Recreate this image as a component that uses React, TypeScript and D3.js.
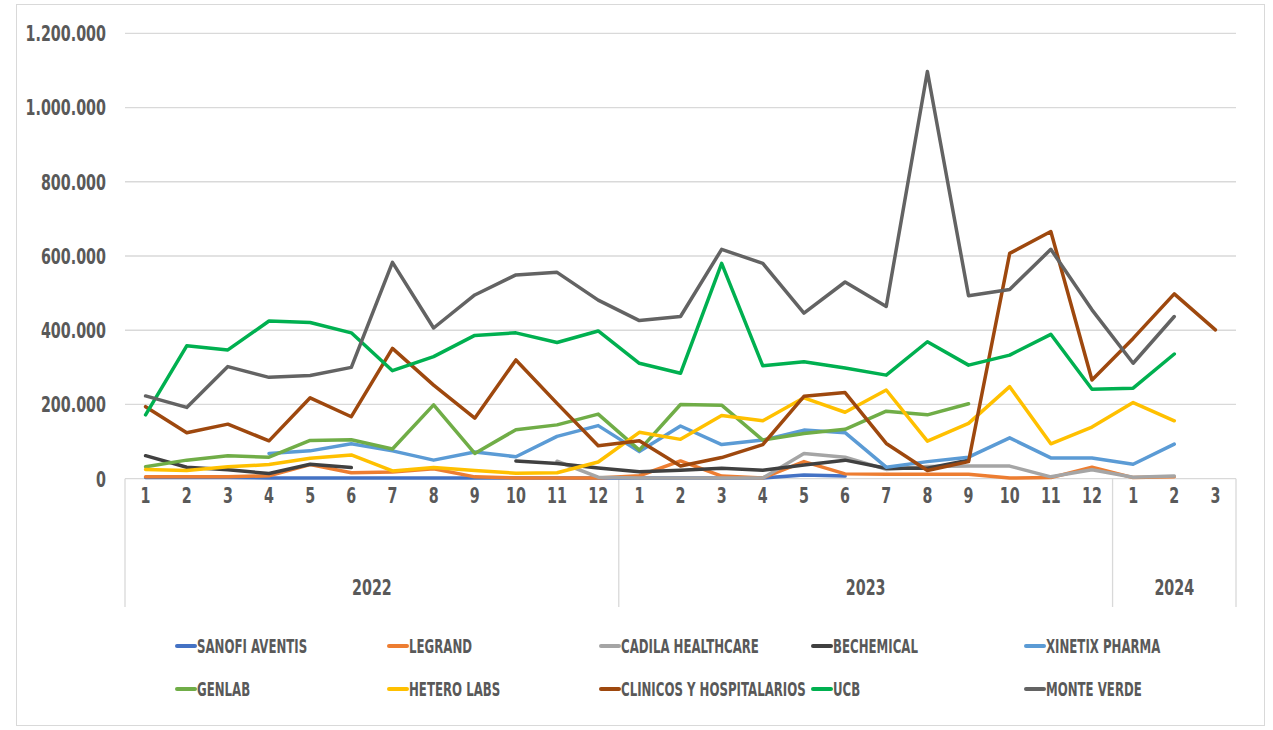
import React from "react";
import * as d3 from "d3";

const months = ["1","2","3","4","5","6","7","8","9","10","11","12","1","2","3","4","5","6","7","8","9","10","11","12","1","2","3"];
const years = [{ label: "2022", start: 0, end: 12 }, { label: "2023", start: 12, end: 24 }, { label: "2024", start: 24, end: 27 }];
const yTicks = [0, 200000, 400000, 600000, 800000, 1000000, 1200000];

type V = number | null;
const N = null;
// values in thousands
const sanofi: V[] = [3,3,3,2,2,2,2,2,2,2,2,2,2,2,2,2,10,7,N,N,N,N,N,N,N,N,N];
const legrand: V[] = [5,5,5,8,38,16,18,27,5,2,2,2,8,48,7,2,46,13,12,12,12,2,3,31,3,5,N];
const cadila: V[] = [N,N,N,N,N,N,N,N,N,N,47,4,2,2,2,2,68,58,25,33,34,34,5,24,4,7,N];
const bechemical: V[] = [62,31,24,14,39,30,N,N,N,48,41,29,19,23,28,23,37,50,28,28,50,N,N,N,N,N,N];
const xinetix: V[] = [N,N,N,68,75,94,75,50,72,59,114,143,73,142,92,104,131,124,31,46,58,110,56,56,39,93,N];
const genlab: V[] = [32,50,62,58,103,105,80,199,68,132,145,174,77,200,198,104,122,133,182,172,202,N,N,N,N,N,N];
const hetero: V[] = [25,22,32,38,55,64,21,30,22,15,16,45,125,106,170,156,218,179,239,101,149,248,94,139,205,156,N];
const clinicos: V[] = [194,124,147,102,218,167,351,252,163,320,203,89,102,34,57,92,222,232,95,22,46,607,666,266,378,498,401];
const ucb: V[] = [172,358,347,425,421,393,291,329,386,393,367,398,311,284,580,304,315,298,279,369,306,333,389,241,244,336,N];
const monteVerde: V[] = [223,192,302,273,278,300,583,406,495,549,556,481,426,437,618,580,446,530,464,1097,493,510,618,455,311,437,N];

const seriesNames = ["SANOFI AVENTIS","LEGRAND","CADILA HEALTHCARE","BECHEMICAL","XINETIX PHARMA","GENLAB","HETERO LABS","CLINICOS Y HOSPITALARIOS","UCB","MONTE VERDE"];
const seriesData = [sanofi, legrand, cadila, bechemical, xinetix, genlab, hetero, clinicos, ucb, monteVerde];
const seriesColors = ["#4472C4","#ED7D31","#A5A5A5","#404040","#5B9BD5","#70AD47","#FFC000","#9E480E","#00B050","#636363"];

const FONT = "'DejaVu Sans', sans-serif";
const TXT = "#595959";

function CText(props: { x: number; y: number; sx: number; size: number; anchor?: string; children: React.ReactNode }) {
  const { x, y, sx, size, anchor = "start", children } = props;
  return (
    <text transform={`translate(${x},${y}) scale(${sx},1)`} dy="0.36em" textAnchor={anchor} fontFamily={FONT} fontWeight="bold" fontSize={size} fill={TXT}>
      {children}
    </text>
  );
}

export default function App() {
  const left = 125, right = 1236, top = 33.3, bottom = 478.7;
  const x = d3.scaleBand<number>().domain(d3.range(months.length)).range([left, right]).padding(0);
  const bw = x.bandwidth();
  const cx = (i: number) => (x(i) as number) + bw / 2;
  const y = d3.scaleLinear().domain([0, 1200000]).range([bottom, top]);
  const fmt = (v: number) => (v === 0 ? "0" : d3.format(",")(v).replace(/,/g, "."));

  const line = d3.line<V>()
    .defined((d) => d != null)
    .x((_, i) => cx(i))
    .y((d) => y((d as number) * 1000));

  const legendCols = [176, 388, 600, 812, 1025];
  const legendRows = [646, 689];

  return (
    <svg width={1273} height={730} style={{ position: "absolute", left: 0, top: 0, background: "#fff" }}>
      <rect x={16.5} y={4.5} width={1248} height={721} fill="#fff" stroke="#d9d9d9" />
      {yTicks.map((t) => (
        <g key={t}>
          {t > 0 && <line x1={left} x2={right} y1={y(t)} y2={y(t)} stroke="#d9d9d9" strokeWidth={1.3} />}
          <CText x={106} y={y(t)} sx={0.65} size={22} anchor="end">{fmt(t)}</CText>
        </g>
      ))}
      <line x1={left} x2={right} y1={bottom} y2={bottom} stroke="#d9d9d9" strokeWidth={1.3} />
      {[0, 12, 24, 27].map((b) => {
        const xx = b < months.length ? (x(b) as number) : right;
        return <line key={b} x1={xx} x2={xx} y1={bottom} y2={607} stroke="#d9d9d9" strokeWidth={1.3} />;
      })}
      {months.map((m, i) => (
        <CText key={i} x={cx(i)} y={495} sx={0.65} size={22} anchor="middle">{m}</CText>
      ))}
      {years.map((yr) => (
        <CText key={yr.label} x={((x(yr.start) as number) + (yr.end < months.length ? (x(yr.end) as number) : right)) / 2} y={587} sx={0.65} size={22} anchor="middle">{yr.label}</CText>
      ))}
      {seriesData.map((s, k) => (
        <path key={k} d={line(s) || ""} fill="none" stroke={seriesColors[k]} strokeWidth={3.5} strokeLinejoin="round" strokeLinecap="round" />
      ))}
      {seriesNames.map((n, k) => {
        const lx = legendCols[k % 5];
        const ly = legendRows[Math.floor(k / 5)];
        return (
          <g key={n}>
            <line x1={lx + 1} x2={lx + 19} y1={ly} y2={ly} stroke={seriesColors[k]} strokeWidth={4} strokeLinecap="round" />
            <CText x={lx + 21} y={ly} sx={0.62} size={19}>{n}</CText>
          </g>
        );
      })}
    </svg>
  );
}
